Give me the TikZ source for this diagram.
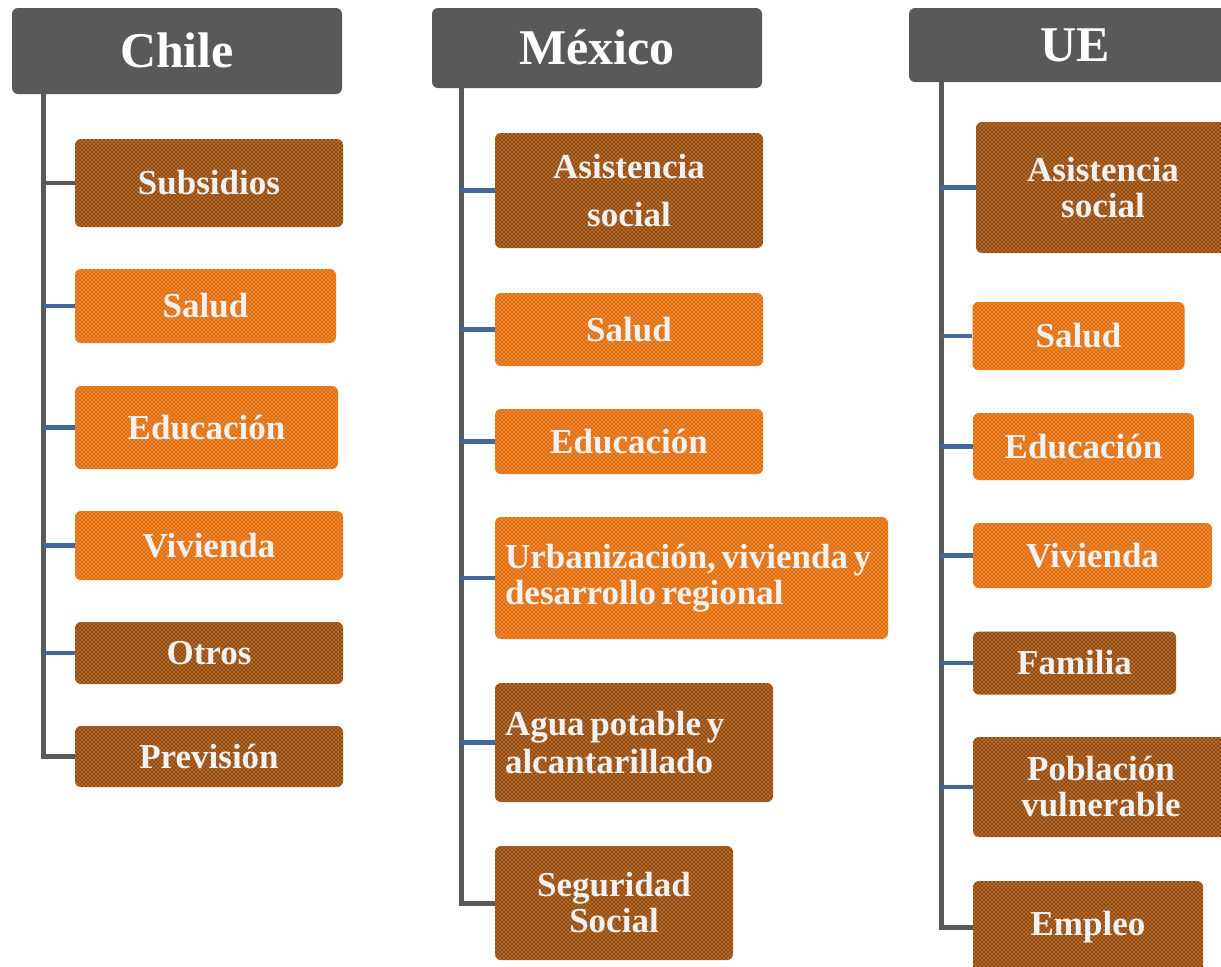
\documentclass[tikz,border=0pt]{standalone}
\usepackage{fontspec}
\setmainfont{Liberation Serif}
\usetikzlibrary{patterns.meta}
\definecolor{hdr}{HTML}{595959}
\definecolor{dkbrown}{HTML}{974806}
\definecolor{orng}{HTML}{E36C09}
\definecolor{txt}{HTML}{F2F2F2}
\definecolor{brblue}{HTML}{41689B}
\definecolor{trgray}{HTML}{595959}
\tikzdeclarepattern{
  name=fdots,
  type=uncolored,
  bottom left={(-.5pt,-.5pt)},
  top right={(2.5pt,2.5pt)},
  tile size={(2pt,2pt)},
  code={\fill (0,0) circle (0.28pt); \fill (1pt,1pt) circle (0.28pt);}
}
\newcommand\bx[7]{\node[#2, minimum width=#5*0.5pt, minimum height=#6*0.5pt] (#1) at (#3,#4) {#7};}
\newcommand\tightspaces{\spaceskip=0.16em\relax}
\begin{document}
\begin{tikzpicture}[x=0.5pt,y=-0.5pt,
  box/.style={rounded corners=3pt, text=txt, font=\fontsize{17.5}{18}\selectfont\bfseries, align=center, inner sep=0pt},
  dk/.style={box, fill=dkbrown, postaction={pattern={fdots}, pattern color=white!85!dkbrown}},
  og/.style={box, fill=orng, postaction={pattern={fdots}, pattern color=white!85!orng}},
  hd/.style={box, fill=hdr, font=\fontsize{25}{28}\selectfont\bfseries, text=white},
  lefttxt/.style={align=left, inner xsep=5pt},
  trunk/.style={draw=trgray, line width=2.5pt},
  br/.style={draw=brblue, line width=2.2pt},
  grbr/.style={draw=trgray, line width=2.2pt}]
\useasboundingbox (0,0) rectangle (1221,966);
\clip (0,0) rectangle (1221,966);
\fill[white] (0,0) rectangle (1221,966);

% ---------------- Chile
\bx{chile}{hd, text depth=0.12em}{177}{51}{330}{86}{Chile}
\coordinate (tc) at (43,94);
\bx{csub}{dk}{209}{183}{268}{88}{Subsidios}
\bx{csal}{og}{205.5}{306}{261}{74}{Salud}
\bx{cedu}{og}{206.5}{427.5}{263}{83}{Educación}
\bx{cviv}{og}{209}{545.5}{268}{69}{Vivienda}
\bx{cotr}{dk}{209}{653}{268}{62}{Otros}
\bx{cpre}{dk}{209}{756.5}{268}{61}{Previsión}
\draw[trunk] (tc) |- (cpre.west);
\draw[grbr] (csub.west) -- (csub.west -| tc);
\draw[br] (csal.west) -- (csal.west -| tc);
\draw[br] (cedu.west) -- (cedu.west -| tc);
\draw[br] (cviv.west) -- (cviv.west -| tc);
\draw[br] (cotr.west) -- (cotr.west -| tc);

% ---------------- Mexico
\bx{mex}{hd, text depth=0.1em}{597}{48}{330}{80}{México}
\coordinate (tm) at (461,88);
\bx{masi}{dk}{629}{190.5}{268}{115}{Asistencia\\[6pt]social}
\bx{msal}{og}{629}{329.5}{268}{73}{Salud}
\bx{medu}{og}{629}{441.5}{268}{65}{Educación}
\node[og, lefttxt, text width=373*0.5pt, minimum width=393*0.5pt, minimum height=122*0.5pt] (murb) at (691.5,578) {\tightspaces Urbanización, vivienda\nobreak\ y\\desarrollo regional};
\node[dk, lefttxt, text width=258*0.5pt, minimum width=278*0.5pt, minimum height=119*0.5pt] (magu) at (634,742.5) {\tightspaces Agua potable y\\[1pt]alcantarillado};
\bx{mseg}{dk}{614}{903}{238}{114}{Seguridad\\Social}
\draw[trunk] (tm) |- (mseg.west);
\draw[br] (masi.west) -- (masi.west -| tm);
\draw[br] (msal.west) -- (msal.west -| tm);
\draw[br] (medu.west) -- (medu.west -| tm);
\draw[br] (murb.west) -- (murb.west -| tm);
\draw[br] (magu.west) -- (magu.west -| tm);

% ---------------- UE
\bx{ue}{hd}{1075}{45}{332}{74}{UE}
\coordinate (tu) at (941,82);
\bx{uasi}{dk}{1103}{187.5}{254}{131}{Asistencia\\social}
\bx{usal}{og}{1078.5}{336}{212}{68}{Salud}
\bx{uedu}{og}{1083.5}{446.5}{221}{67}{Educación}
\bx{uviv}{og}{1092.5}{555.5}{239}{65}{Vivienda}
\bx{ufam}{dk}{1074.5}{663}{203}{63}{Familia}
\bx{upob}{dk}{1101}{787}{256}{100}{Población\\vulnerable}
\bx{uemp}{dk}{1088}{927}{230}{92}{Empleo}
\draw[trunk] (tu) |- (uemp.west);
\draw[br] (uasi.west) -- (uasi.west -| tu);
\draw[br] (usal.west) -- (usal.west -| tu);
\draw[br] (uedu.west) -- (uedu.west -| tu);
\draw[br] (uviv.west) -- (uviv.west -| tu);
\draw[br] (ufam.west) -- (ufam.west -| tu);
\draw[br] (upob.west) -- (upob.west -| tu);
\end{tikzpicture}
\end{document}
